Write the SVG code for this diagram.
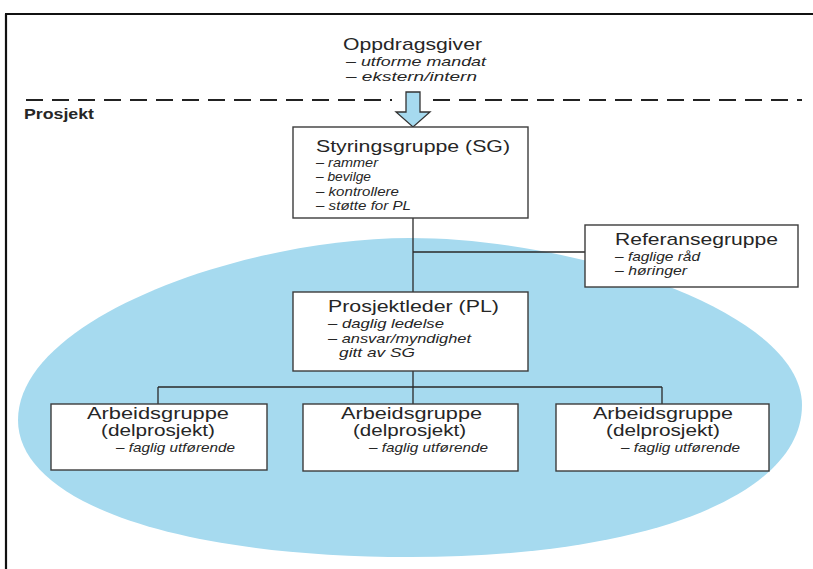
<svg xmlns="http://www.w3.org/2000/svg" width="813" height="569" viewBox="0 0 813 569">
<style>
text{font-family:"Liberation Sans",Arial,sans-serif;fill:#262626}
.t{font-size:17px}
.a{font-size:16px}
.i{font-size:13px;font-style:italic}
.b{font-size:15px;font-weight:bold}
.box{fill:#fff;stroke:#3c3c3c;stroke-width:1.4}
.ln{stroke:#2a2a2a;stroke-width:1.3;fill:none}
</style>
<rect width="813" height="569" fill="#fff"/>
<g id="frame">
<path d="M5 14H813M6 14V569" stroke="#111" stroke-width="2.2" fill="none"/>
</g>
<path id="oval" d="M410 238C575 238 802 311 802 405C802 496 645 557 410 557C175 557 18 502 18 420C18 318 245 238 410 238Z" fill="#a6daef"/>
<g id="boundary">
<path d="M26 100H392M433 100H802" stroke="#222" stroke-width="2" stroke-dasharray="17 9" fill="none"/>
<text class="b" x="24" y="119" textLength="70" lengthAdjust="spacingAndGlyphs">Prosjekt</text>
</g>
<g id="oppdragsgiver">
<text x="343" y="50" style="font-size:17px" textLength="139" lengthAdjust="spacingAndGlyphs">Oppdragsgiver</text>
<text class="i" x="346" y="66" textLength="140" lengthAdjust="spacingAndGlyphs">– utforme mandat</text>
<text class="i" x="346" y="81" textLength="131" lengthAdjust="spacingAndGlyphs">– ekstern/intern</text>
</g>
<g id="arrow">
<path d="M406 92H420V112H430L413 127L396 112H406Z" fill="#a6daef" stroke="#333" stroke-width="1.3"/>
</g>
<g id="connectors">
<path class="ln" d="M413 218V292M413 252H585M413 371V387M158 387H662M158 387V404M413 387V404M662 387V404"/>
</g>
<g id="styringsgruppe">
<rect class="box" x="293" y="127" width="235" height="91"/>
<text class="t" x="316" y="152" textLength="194" lengthAdjust="spacingAndGlyphs">Styringsgruppe (SG)</text>
<text class="i" x="316" y="167" textLength="62" lengthAdjust="spacingAndGlyphs">– rammer</text>
<text class="i" x="316" y="181" textLength="55" lengthAdjust="spacingAndGlyphs">– bevilge</text>
<text class="i" x="316" y="196" textLength="83" lengthAdjust="spacingAndGlyphs">– kontrollere</text>
<text class="i" x="316" y="210" textLength="95" lengthAdjust="spacingAndGlyphs">– støtte for PL</text>
</g>
<g id="referansegruppe">
<rect class="box" x="585" y="225" width="213" height="62"/>
<text class="t" x="615" y="245" textLength="163" lengthAdjust="spacingAndGlyphs">Referansegruppe</text>
<text class="i" x="615" y="261" textLength="85" lengthAdjust="spacingAndGlyphs">– faglige råd</text>
<text class="i" x="615" y="275" textLength="72" lengthAdjust="spacingAndGlyphs">– høringer</text>
</g>
<g id="prosjektleder">
<rect class="box" x="293" y="292" width="235" height="79"/>
<text class="t" x="328" y="312" textLength="171" lengthAdjust="spacingAndGlyphs">Prosjektleder (PL)</text>
<text class="i" x="328" y="328" textLength="116" lengthAdjust="spacingAndGlyphs">– daglig ledelse</text>
<text class="i" x="328" y="343" textLength="143" lengthAdjust="spacingAndGlyphs">– ansvar/myndighet</text>
<text class="i" x="339" y="357" textLength="76" lengthAdjust="spacingAndGlyphs">gitt av SG</text>
</g>
<g id="arbeidsgruppe1">
<rect class="box" x="51" y="404" width="216" height="66"/>
<text class="a" x="87" y="419" textLength="142" lengthAdjust="spacingAndGlyphs">Arbeidsgruppe</text>
<text class="a" x="101" y="436" textLength="114" lengthAdjust="spacingAndGlyphs">(delprosjekt)</text>
<text class="i" x="116" y="452" textLength="119" lengthAdjust="spacingAndGlyphs">– faglig utførende</text>
</g>
<g id="arbeidsgruppe2">
<rect class="box" x="303" y="404" width="215" height="67"/>
<text class="a" x="341" y="419" textLength="141" lengthAdjust="spacingAndGlyphs">Arbeidsgruppe</text>
<text class="a" x="353" y="436" textLength="113" lengthAdjust="spacingAndGlyphs">(delprosjekt)</text>
<text class="i" x="369" y="452" textLength="119" lengthAdjust="spacingAndGlyphs">– faglig utførende</text>
</g>
<g id="arbeidsgruppe3">
<rect class="box" x="556" y="404" width="213" height="67"/>
<text class="a" x="593" y="419" textLength="140" lengthAdjust="spacingAndGlyphs">Arbeidsgruppe</text>
<text class="a" x="606" y="436" textLength="114" lengthAdjust="spacingAndGlyphs">(delprosjekt)</text>
<text class="i" x="621" y="452" textLength="119" lengthAdjust="spacingAndGlyphs">– faglig utførende</text>
</g>
</svg>
